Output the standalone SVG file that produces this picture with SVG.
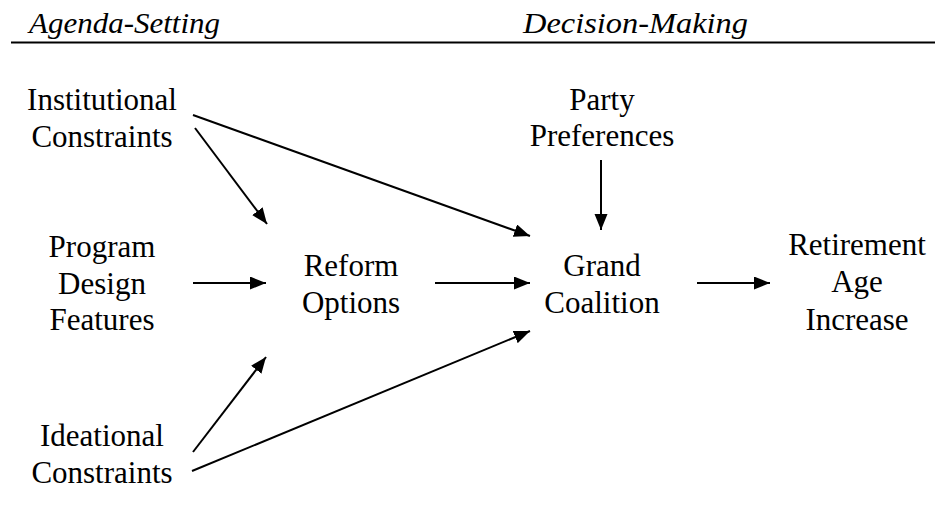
<svg xmlns="http://www.w3.org/2000/svg" width="935" height="521" viewBox="0 0 935 521">
<style>
.t{font-family:"Liberation Serif","Times New Roman",serif;font-size:31px;fill:#000;text-anchor:middle}
.h{font-family:"Liberation Serif","Times New Roman",serif;font-size:29px;font-style:italic;fill:#000}
.c{stroke:#000;stroke-width:2;fill:none;marker-end:url(#ah)}
</style>
<defs>
<marker id="ah" markerUnits="userSpaceOnUse" markerWidth="17" markerHeight="14" refX="16" refY="6.5" orient="auto">
<path d="M0,0 L16,6.5 L0,13 z" fill="#000"/>
</marker>
</defs>
<rect width="935" height="521" fill="#fff"/>
<g id="header">
<text class="h" x="29" y="33" textLength="191" lengthAdjust="spacingAndGlyphs">Agenda-Setting</text>
<text class="h" x="523" y="33" textLength="225" lengthAdjust="spacingAndGlyphs">Decision-Making</text>
<line x1="11" y1="42.5" x2="935" y2="42.5" stroke="#000" stroke-width="2"/>
</g>
<g id="institutional"><text class="t" x="102" y="110">Institutional</text><text class="t" x="102" y="147">Constraints</text></g>
<g id="party"><text class="t" x="602" y="110">Party</text><text class="t" x="602" y="146">Preferences</text></g>
<g id="program"><text class="t" x="102" y="257">Program</text><text class="t" x="102" y="294">Design</text><text class="t" x="102" y="330">Features</text></g>
<g id="reform"><text class="t" x="351" y="276">Reform</text><text class="t" x="351" y="313">Options</text></g>
<g id="grand"><text class="t" x="602" y="276">Grand</text><text class="t" x="602" y="313">Coalition</text></g>
<g id="retirement"><text class="t" x="857" y="255">Retirement</text><text class="t" x="857" y="292">Age</text><text class="t" x="857" y="330">Increase</text></g>
<g id="ideational"><text class="t" x="102" y="446">Ideational</text><text class="t" x="102" y="483">Constraints</text></g>
<g id="connectors">
<line class="c" x1="195" y1="128" x2="267" y2="224"/>
<line class="c" x1="193" y1="115" x2="530" y2="236"/>
<line class="c" x1="193" y1="283" x2="266" y2="283"/>
<line class="c" x1="435" y1="283" x2="530" y2="283"/>
<line class="c" x1="601" y1="160" x2="601" y2="230"/>
<line class="c" x1="697" y1="283" x2="770" y2="283"/>
<line class="c" x1="193" y1="452" x2="266" y2="357"/>
<line class="c" x1="192" y1="471" x2="530" y2="331"/>
</g>
</svg>
